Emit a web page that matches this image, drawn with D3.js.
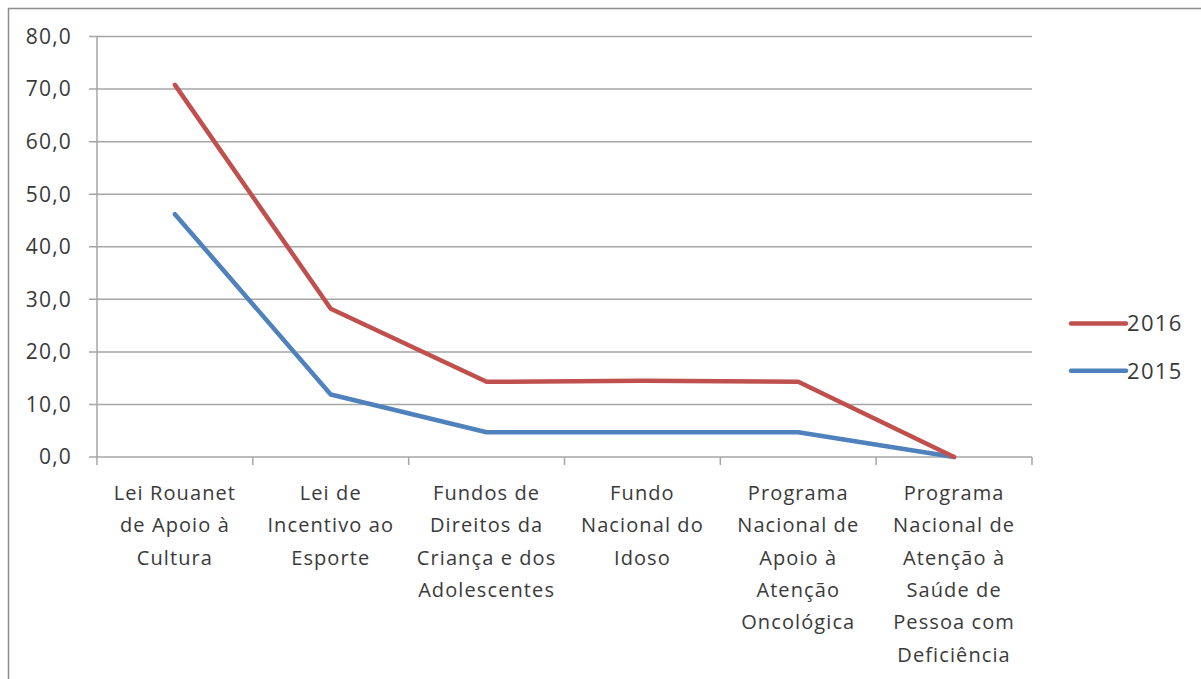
<!DOCTYPE html>
<html>
<head>
<meta charset="utf-8">
<script src="https://cdn.jsdelivr.net/npm/d3@7"></script>
<style>
  body { margin: 0; background: #fff; }
  svg { display: block; }
  text { font-family: "Open Sans", sans-serif; fill: #3a3a3a; }
</style>
</head>
<body>
<div id="chart"></div>
<script>
// category labels, already broken into the lines used in the picture
var categories = [
    ["Lei Rouanet", "de Apoio à", "Cultura"],
    ["Lei de", "Incentivo ao", "Esporte"],
    ["Fundos de", "Direitos da", "Criança e dos", "Adolescentes"],
    ["Fundo", "Nacional do", "Idoso"],
    ["Programa", "Nacional de", "Apoio à", "Atenção", "Oncológica"],
    ["Programa", "Nacional de", "Atenção à", "Saúde de", "Pessoa com", "Deficiência"]
];
var values2016 = [70.8, 28.2, 14.3, 14.5, 14.3, 0];
var values2015 = [46.2, 11.9, 4.7, 4.7, 4.7, 0];
var yTicks = [0, 10, 20, 30, 40, 50, 60, 70, 80];
var seriesNames = ["2016", "2015"];

var width = 1201, height = 679;
var margin = {left: 97, right: 169, top: 36.5, bottom: 222};

var svg = d3.select("#chart").append("svg")
    .attr("width", width)
    .attr("height", height);

// outer chart border (runs off the right and bottom of the picture)
svg.append("rect")
    .attr("x", 8.5).attr("y", 8.5)
    .attr("width", 1300).attr("height", 800)
    .attr("fill", "none")
    .attr("stroke", "#8c8c8c")
    .attr("stroke-width", 1.5);

var idx = d3.range(categories.length);

var x = d3.scaleBand()
    .domain(idx)
    .range([margin.left, width - margin.right]);

var y = d3.scaleLinear()
    .domain([0, 80])
    .range([height - margin.bottom, margin.top]);

var fmt = function(d) { return d3.format(".1f")(d).replace(".", ","); };

// gridlines
svg.append("g")
    .selectAll("line")
    .data(yTicks)
    .enter().append("line")
    .attr("x1", margin.left - 8)
    .attr("x2", width - margin.right)
    .attr("y1", function(d) { return y(d); })
    .attr("y2", function(d) { return y(d); })
    .attr("stroke", "#a6a6a6")
    .attr("stroke-width", 1.5);

// y axis line
svg.append("line")
    .attr("x1", margin.left).attr("x2", margin.left)
    .attr("y1", y(80)).attr("y2", y(0))
    .attr("stroke", "#a6a6a6")
    .attr("stroke-width", 1.5);

// y labels
svg.append("g")
    .selectAll("text")
    .data(yTicks)
    .enter().append("text")
    .attr("x", margin.left - 25)
    .attr("y", function(d) { return y(d); })
    .attr("dy", "0.35em")
    .attr("text-anchor", "end")
    .style("font-size", "21px")
    .style("letter-spacing", "1.2px")
    .text(fmt);

// x tick marks at category boundaries
var bounds = idx.map(function(i) { return x(i); }).concat([x.range()[1]]);
svg.append("g")
    .selectAll("line")
    .data(bounds)
    .enter().append("line")
    .attr("x1", function(d) { return d; })
    .attr("x2", function(d) { return d; })
    .attr("y1", y(0))
    .attr("y2", y(0) + 8)
    .attr("stroke", "#a6a6a6")
    .attr("stroke-width", 1.5);

// category labels
var cx = function(i) { return x(i) + x.bandwidth() / 2; };
var labels = svg.append("g")
    .selectAll("text")
    .data(idx)
    .enter().append("text")
    .attr("text-anchor", "middle")
    .style("font-size", "20px")
    .style("letter-spacing", "1.1px");

labels.each(function(i) {
    var t = d3.select(this);
    categories[i].forEach(function(line, k) {
        t.append("tspan")
            .attr("x", cx(i))
            .attr("y", 493 + k * 32.3)
            .attr("dy", "0.35em")
            .text(line);
    });
});

// series lines
var series = [
    {name: seriesNames[0], values: values2016, color: "#c0504d"},
    {name: seriesNames[1], values: values2015, color: "#4f81bd"}
];

var line = d3.line()
    .x(function(d, i) { return cx(i); })
    .y(function(d) { return y(d); });

svg.append("g")
    .selectAll("path")
    .data(series.slice().reverse())
    .enter().append("path")
    .attr("d", function(d) { return line(d.values); })
    .attr("fill", "none")
    .attr("stroke", function(d) { return d.color; })
    .attr("stroke-width", 4.5)
    .attr("stroke-linejoin", "round")
    .attr("stroke-linecap", "round");

// legend
var legend = svg.append("g")
    .selectAll("g")
    .data(series)
    .enter().append("g")
    .attr("transform", function(d, i) { return "translate(1071," + (323.5 + i * 47.3) + ")"; });

legend.append("line")
    .attr("x1", 0).attr("x2", 55)
    .attr("stroke", function(d) { return d.color; })
    .attr("stroke-width", 4.5)
    .attr("stroke-linecap", "round");

legend.append("text")
    .attr("x", 56)
    .attr("dy", "0.35em")
    .style("font-size", "22px")
    .style("letter-spacing", "1.3px")
    .text(function(d) { return d.name; });
</script>
</body>
</html>
